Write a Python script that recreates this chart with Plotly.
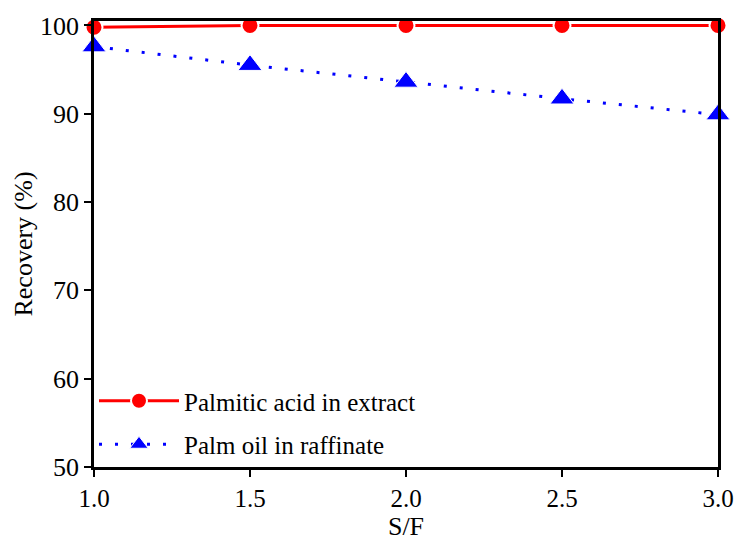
import plotly.graph_objects as go

sf = [1.0, 1.5, 2.0, 2.5, 3.0]
palmitic_extract = [99.8, 100.0, 100.0, 100.0, 100.0]
palm_oil_raffinate = [97.6, 95.5, 93.6, 91.7, 89.9]

fig = go.Figure()
fig.add_trace(go.Scatter(
    x=sf, y=palmitic_extract, name="Palmitic acid in extract",
    mode="lines+markers", legendgroup="a",
    line=dict(color="#ff0000", width=3),
    marker=dict(symbol="circle", size=17, color="#ff0000", line=dict(color="white", width=2)),
    cliponaxis=False,
))
fig.add_trace(go.Scatter(
    x=sf, y=palm_oil_raffinate, name="Palm oil in raffinate",
    mode="lines+markers", legendgroup="b",
    line=dict(color="#0000ff", width=3, dash="3px,13px"),
    marker=dict(symbol="triangle-up", size=21, color="#0000ff", line=dict(color="white", width=1)),
    cliponaxis=False,
))

FAM = "Liberation Serif, Times New Roman, Times, serif"
axis_font = dict(family=FAM, size=26, color="black")
fig.update_layout(
    width=734, height=541,
    margin=dict(l=94, r=16, t=21, b=74, autoexpand=False),
    plot_bgcolor="white", paper_bgcolor="white",
    font=axis_font,
    showlegend=True,
    legend=dict(x=0.0, y=0.0, xanchor="left", yanchor="bottom",
                bgcolor="rgba(0,0,0,0)", font=dict(family=FAM, size=25, color="black"),
                itemwidth=80, tracegroupgap=8),
    xaxis=dict(
        range=[1.0, 3.0], tickvals=[1.0, 1.5, 2.0, 2.5, 3.0],
        ticktext=["1.0", "1.5", "2.0", "2.5", "3.0"],
        showgrid=False, zeroline=False, automargin=False,
        ticklabeloverflow="allow",
        showline=True, linecolor="black", linewidth=2.5, mirror=True,
        ticks="outside", ticklen=7, tickwidth=2, tickcolor="black",
        title=dict(text="S/F", font=axis_font, standoff=10),
        tickfont=dict(family=FAM, size=25, color="black"),
    ),
    yaxis=dict(
        range=[50, 100.5], tickvals=[50, 60, 70, 80, 90, 100],
        showgrid=False, zeroline=False, automargin=False,
        ticklabeloverflow="allow",
        showline=True, linecolor="black", linewidth=2.5, mirror=True,
        ticks="outside", ticklen=7, tickwidth=2, tickcolor="black",
        title=dict(text="Recovery (%)", font=axis_font, standoff=0),
        tickfont=axis_font,
    ),
)
fig.write_html("out.html")
